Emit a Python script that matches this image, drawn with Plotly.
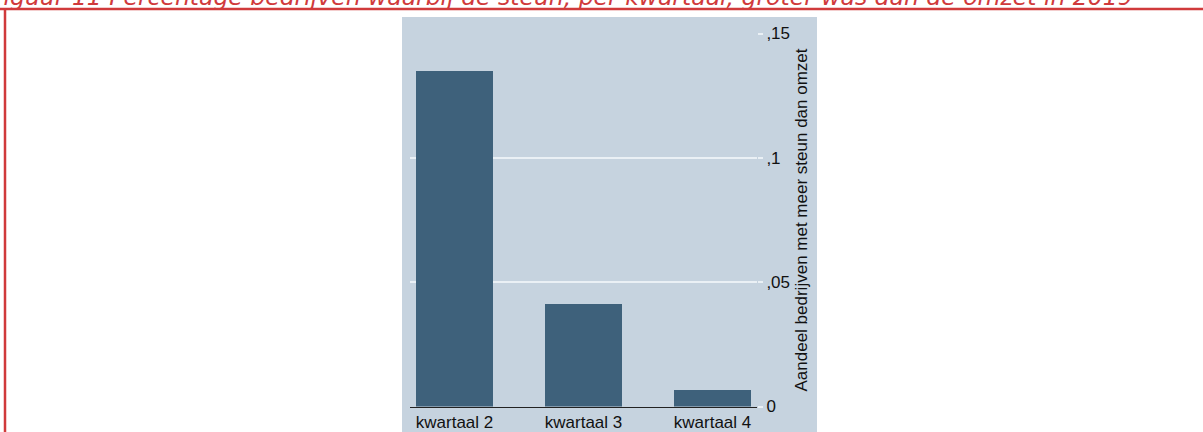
import plotly.graph_objects as go

categories = ["kwartaal 2", "kwartaal 3", "kwartaal 4"]
values = [0.135, 0.0415, 0.007]
tick_vals = [0, 0.05, 0.10, 0.15]
tick_text = ["0", ",05", ",1", ",15"]
title_text = "Figuur 11 Percentage bedrijven waarbij de steun, per kwartaal, groter was dan de omzet in 2019"
y_title = "Aandeel bedrijven met meer steun dan omzet"

W, H = 1203, 432
BG = "#c6d3df"
BAR = "#3e617b"
GRID = "#eaf0f5"
RED = "#d03a3b"

def px(x):
    return x / W

def py(y):
    return 1 - y / H

fig = go.Figure()
fig.add_trace(go.Bar(
    x=list(range(len(categories))), y=values,
    marker=dict(color=BAR, line=dict(width=0)),
    width=0.6, showlegend=False, hoverinfo="skip",
))

fig.update_layout(
    width=W, height=H,
    margin=dict(l=0, r=0, t=0, b=0, pad=0),
    paper_bgcolor="white",
    plot_bgcolor=BG,
    font=dict(family="Liberation Sans, Arial, sans-serif", size=16, color="#111111"),
    bargap=0,
    xaxis=dict(
        domain=[px(410), px(757)],
        range=[-0.345, 2.345],
        tickmode="array",
        tickvals=list(range(len(categories))),
        ticktext=categories,
        showgrid=False, zeroline=False,
        showline=True, linecolor="#222222", linewidth=1.3,
        ticks="", automargin=False,
        tickfont=dict(size=17, color="#111111"),
        fixedrange=True,
    ),
    yaxis=dict(
        domain=[py(406.5), py(33.5)],
        range=[0, 0.15],
        side="right",
        tickmode="array",
        tickvals=tick_vals,
        ticktext=tick_text,
        showgrid=True, gridcolor=GRID, gridwidth=1.6,
        zeroline=False, showline=False,
        ticks="outside", ticklen=5, tickcolor=GRID, tickwidth=1.6,
        automargin=False,
        tickfont=dict(size=17, color="#111111"),
        title=dict(text=y_title, font=dict(size=17, color="#111111"), standoff=6),
        fixedrange=True,
    ),
    shapes=[
        dict(type="rect", xref="paper", yref="paper",
             x0=px(402), x1=px(817), y0=0, y1=py(17),
             fillcolor=BG, line=dict(width=0), layer="below"),
        dict(type="line", xref="paper", yref="paper",
             x0=0, x1=1, y0=py(9), y1=py(9),
             line=dict(color=RED, width=2.5)),
        dict(type="line", xref="paper", yref="paper",
             x0=px(5), x1=px(5), y0=0, y1=py(9),
             line=dict(color=RED, width=2.5)),
    ],
    annotations=[
        dict(text="<i>" + title_text + "</i>", xref="paper", yref="paper",
             x=px(-12), y=py(13), xanchor="left", yanchor="bottom",
             showarrow=False, font=dict(family="DejaVu Sans", size=23.5, color=RED)),
    ],
)

fig.write_html(
    "out.html",
    config={"displayModeBar": False},
    post_script="document.body.style.margin='0';document.body.style.overflow='hidden';",
)
